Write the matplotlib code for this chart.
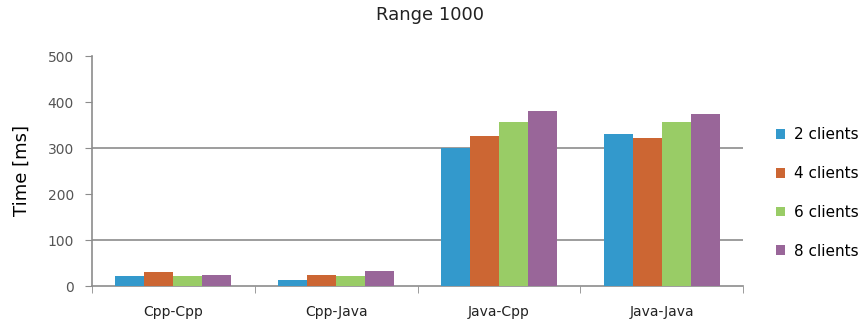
import numpy as np
from matplotlib import pyplot as plt

categories = ['Cpp-Cpp', 'Cpp-Java', 'Java-Cpp', 'Java-Java']
series = ['2 clients', '4 clients', '6 clients', '8 clients']
clients_2 = [22, 13, 299, 331]
clients_4 = [30, 25, 326, 322]
clients_6 = [22, 22, 356, 356]
clients_8 = [25, 33, 380, 373]
colors = ['#3399cc', '#cc6633', '#99cc66', '#996699']

fig = plt.figure(figsize=(8.66, 3.33), dpi=100)
ax = fig.add_axes([92 / 866, 1 - 286 / 333, (743 - 92) / 866, (286 - 56) / 333])

x = np.arange(len(categories))
w = 0.178
for i, (vals, name) in enumerate(zip([clients_2, clients_4, clients_6, clients_8], series)):
    ax.bar(x + (i - 1.5) * w, vals, w, color=colors[i], label=name, zorder=3)

ax.set_xlim(-0.5, 3.5)
ax.set_ylim(0, 500)
ax.set_yticks([0, 100, 200, 300, 400, 500])
for g in [100, 300]:
    ax.axhline(g, color='#8c8c8c', lw=1.2, zorder=1)

ax.set_xticks(x)
ax.set_xticklabels(categories, fontsize=10, color='#222222')
ax.set_xticks([-0.5, 0.5, 1.5, 2.5, 3.5], minor=True)
ax.tick_params(axis='x', which='major', length=0, pad=14)
ax.tick_params(axis='x', which='minor', length=5, color='#8c8c8c')
ax.tick_params(axis='y', length=5, color='#8c8c8c', labelsize=10, labelcolor='#555555', pad=8)

for s in ['top', 'right']:
    ax.spines[s].set_visible(False)
for s in ['left', 'bottom']:
    ax.spines[s].set_color('#8c8c8c')
    ax.spines[s].set_linewidth(1.2)

ax.set_ylabel('Time [ms]', fontsize=13, labelpad=12)
fig.suptitle('Range 1000', fontsize=13, x=430 / 866, y=1 - 6 / 333, va='top', color='#222222')

ax.legend(loc='center left', bbox_to_anchor=(762 / 866, 1 - 193 / 333), bbox_transform=fig.transFigure,
          frameon=False, fontsize=11, handlelength=0.6, handleheight=0.6, handletextpad=0.6,
          labelspacing=1.55)

fig.savefig('out.png', dpi=100)
